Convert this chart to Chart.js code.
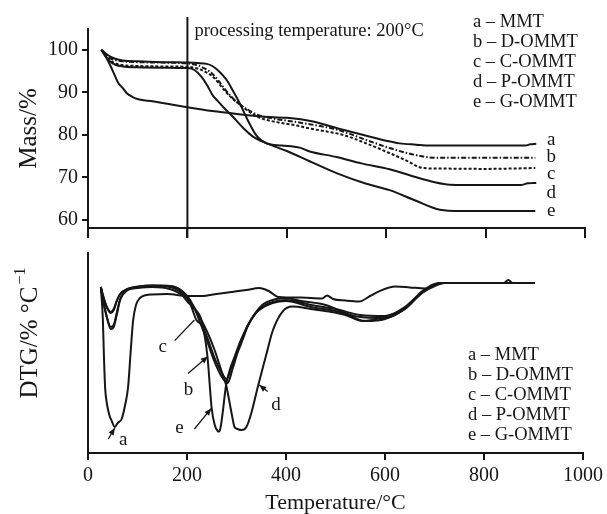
<!DOCTYPE html>
<html>
<head>
<meta charset="utf-8">
<title>TGA / DTG of MMT and OMMT</title>
<script src="https://cdn.jsdelivr.net/npm/chart.js@4.4.1/dist/chart.umd.min.js"></script>
<style>
  html, body { margin: 0; padding: 0; background: #fff; }
  #page { position: relative; width: 607px; height: 514px; }
  .panel { position: absolute; left: 0; width: 607px; }
  #tgaBox { top: 0; height: 245px; }
  #dtgBox { top: 245px; height: 269px; }
</style>
</head>
<body>
<div id="page">
  <div class="panel" id="tgaBox"><canvas id="tgaChart"></canvas></div>
  <div class="panel" id="dtgBox"><canvas id="dtgChart"></canvas></div>
</div>
<script>
// ---------------- DATA ----------------
const SERIES_KEYS = ["a", "b", "c", "d", "e"];
const SERIES_NAMES = ["MMT", "D-OMMT", "C-OMMT", "P-OMMT", "G-OMMT"];

const TEMP_TICKS = [0, 200, 400, 600, 800, 1000];
const MASS_TICKS = [60, 70, 80, 90, 100];
const PROCESS_T = 200;

// TGA, mass %
const TGA_T_A = [27, 40, 50, 61, 70, 78, 90, 101, 130, 160, 200, 250, 300, 350, 400, 450, 513, 560, 600, 627, 660, 687, 750, 850, 880, 890, 902];
const TGA_A   = [100, 97.5, 95, 92.2, 91, 89.8, 88.9, 88.4, 87.9, 87.3, 86.5, 85.6, 84.9, 84.3, 84.0, 83.2, 81.2, 79.8, 78.6, 78.0, 77.7, 77.5, 77.5, 77.5, 77.5, 77.8, 77.9];

const TGA_T_B = [27, 35, 45, 55, 70, 100, 150, 200, 220, 235, 249, 262, 275, 290, 302, 320, 346, 380, 420, 446, 480, 513, 560, 607, 650, 687, 700, 800, 900];
const TGA_B   = [100, 99, 98, 97.6, 97.3, 97.1, 97.0, 96.8, 96.4, 95.6, 94.5, 92.8, 90.8, 88.8, 87.5, 86, 84.5, 83.7, 83.0, 82.5, 81.8, 80.8, 78.8, 76.9, 75.5, 74.7, 74.6, 74.6, 74.6];

const TGA_T_C = [27, 35, 45, 55, 70, 100, 150, 200, 220, 235, 249, 262, 275, 290, 305, 320, 346, 380, 420, 446, 480, 513, 560, 607, 640, 674, 700, 800, 900];
const TGA_C   = [100, 98.7, 97.5, 96.8, 96.4, 96.2, 96.1, 96.0, 95.6, 94.9, 93.9, 92.3, 90.4, 88.6, 87.2, 85.8, 84.0, 83.0, 82.2, 81.5, 80.8, 80.0, 78.0, 75.7, 74.0, 72.2, 72.1, 72.0, 72.2];

const TGA_T_D = [27, 35, 45, 55, 70, 100, 150, 200, 220, 239, 250, 265, 279, 292, 305, 320, 339, 359, 390, 426, 446, 500, 550, 607, 650, 700, 728, 800, 870, 885, 902];
const TGA_D   = [100, 99.2, 98.4, 97.9, 97.5, 97.3, 97.1, 97.0, 96.9, 96.7, 96.2, 94.8, 92.9, 90.3, 87.5, 83.8, 79.8, 78.0, 77.5, 77.0, 76.1, 74.8, 73.3, 71.9, 70.4, 68.8, 68.3, 68.2, 68.2, 68.6, 68.7];

const TGA_T_E = [27, 35, 45, 55, 70, 100, 150, 200, 215, 228, 240, 251, 261, 275, 292, 316, 332, 360, 400, 446, 500, 560, 607, 660, 708, 750, 900];
const TGA_E   = [100, 98.5, 97.2, 96.5, 96.1, 95.9, 95.8, 95.7, 95.2, 93.7, 91.6, 89.3, 88.0, 86.2, 84.2, 81.2, 79.6, 78.0, 76.2, 73.8, 71.0, 68.5, 67.0, 64.5, 62.4, 62.1, 62.1];

// DTG, relative units (0 = baseline, no scale printed)
const DTG_T_A = [26, 30, 32, 34.5, 38, 43, 48, 54, 60, 68, 75, 81, 86, 91, 97, 105, 118, 130, 160, 200, 230, 260, 290, 320, 346, 365, 385, 430, 473, 483, 495, 520, 547, 570, 587, 621, 650, 681, 695, 708, 800, 840, 849, 858, 903];
const DTG_A   = [-0.2, -1.8, -3.5, -5.2, -6.0, -6.6, -6.9, -7.2, -7.0, -6.8, -6.1, -5.2, -3.5, -1.9, -1.1, -0.75, -0.6, -0.57, -0.55, -0.65, -0.65, -0.55, -0.45, -0.35, -0.25, -0.4, -0.7, -0.73, -0.77, -0.62, -0.8, -0.88, -0.93, -0.65, -0.43, -0.18, -0.22, -0.27, -0.1, 0, 0, 0, 0.15, 0, 0];

const DTG_T_B = [26, 30, 38, 46, 52, 58, 65, 80, 100, 130, 165, 190, 205, 219, 230, 242, 255, 268, 282, 292, 302, 313, 322, 339, 355, 373, 400, 450, 500, 550, 600, 640, 675, 705, 720, 800, 903];
const DTG_B   = [-0.2, -0.6, -1.2, -1.45, -1.3, -0.9, -0.55, -0.3, -0.2, -0.13, -0.15, -0.4, -0.8, -1.5, -2.2, -3.0, -3.9, -4.6, -5.0, -4.3, -3.5, -2.8, -2.2, -1.5, -1.15, -0.95, -0.85, -1.1, -1.3, -1.6, -1.65, -1.2, -0.45, -0.05, 0, 0, 0];

const DTG_T_C = [26, 30, 38, 46, 52, 58, 65, 80, 100, 130, 165, 190, 205, 219, 230, 242, 255, 268, 280, 290, 302, 313, 322, 339, 355, 373, 400, 450, 500, 550, 600, 640, 675, 705, 720, 800, 903];
const DTG_C   = [-0.2, -0.8, -1.7, -2.2, -2.1, -1.5, -0.8, -0.35, -0.22, -0.15, -0.2, -0.5, -0.95, -1.85, -2.1, -2.8, -3.7, -4.4, -4.8, -4.2, -3.4, -2.7, -2.15, -1.5, -1.2, -1.0, -0.9, -1.2, -1.4, -1.7, -1.75, -1.3, -0.5, -0.1, 0, 0, 0];

const DTG_T_D = [26, 30, 38, 46, 52, 58, 65, 80, 100, 130, 165, 190, 205, 219, 240, 255, 269, 279, 290, 296, 302, 310, 320, 330, 343, 360, 373, 393, 413, 450, 487, 520, 554, 601, 641, 674, 701, 715, 800, 903];
const DTG_D   = [-0.2, -0.6, -1.2, -1.5, -1.35, -0.9, -0.55, -0.3, -0.18, -0.12, -0.15, -0.4, -0.85, -1.4, -2.4, -3.3, -4.35, -5.1, -6.5, -7.2, -7.3, -7.35, -7.2, -6.5, -5.2, -3.6, -2.4, -1.43, -1.18, -1.3, -1.43, -1.6, -1.9, -1.68, -1.27, -0.43, -0.1, 0, 0, 0];

const DTG_T_E = [26, 30, 38, 46, 52, 58, 65, 80, 100, 130, 165, 190, 200, 215, 229, 241, 250, 256, 262, 265, 268, 272, 279, 287, 296, 309, 329, 352, 380, 400, 430, 480, 520, 560, 600, 640, 674, 700, 715, 800, 903];
const DTG_E   = [-0.2, -0.8, -1.7, -2.3, -2.2, -1.6, -0.85, -0.35, -0.25, -0.2, -0.3, -0.6, -0.9, -1.3, -1.85, -3.6, -6.3, -7.1, -7.4, -7.43, -7.2, -6.5, -5.1, -4.3, -3.7, -2.85, -1.85, -1.1, -0.8, -0.75, -0.9, -1.1, -1.5, -1.9, -1.8, -1.3, -0.5, -0.1, 0, 0, 0];

// curve letters at the right end of the TGA panel
const END_LABEL_T = 932;
const END_LABEL_MASS = [78.8, 74.8, 70.8, 66.4, 62.0];

// pointer letters in the DTG panel (text spot, line start, line end)
const DTG_NOTES = [
    { key: "a", at: [71, -7.85], from: [41, -7.8], to: [54, -7.25], head: true },
    { key: "c", at: [151, -3.2], from: [175, -2.88], to: [215, -1.85], head: false },
    { key: "b", at: [203, -5.35], from: [202, -4.52], to: [242, -3.68], head: true },
    { key: "e", at: [185, -7.27], from: [215, -7.3], to: [249, -6.27], head: true },
    { key: "d", at: [380, -6.1], from: [363, -5.43], to: [346, -5.1], head: true }
];

// ---------------- STYLE ----------------
const INK = "#161616";
const SERIF = "'Liberation Serif', 'Times New Roman', serif";
const AXIS_LEFT = 88;
const TGA_DASH = [[], [5, 2, 1.5, 2], [3, 2], [], []];

function pts(xs, ys) {
    return xs.map((x, i) => ({ x: x, y: ys[i] }));
}

function curve(xs, ys, dash) {
    return {
        data: pts(xs, ys),
        borderColor: INK,
        borderWidth: 2,
        borderDash: dash || [],
        pointRadius: 0,
        fill: false,
        cubicInterpolationMode: "monotone"
    };
}

function fixTicks(values) {
    return scale => { scale.ticks = values.map(v => ({ value: v })); };
}

const baseOptions = {
    responsive: true,
    maintainAspectRatio: false,
    animation: false,
    events: [],
    plugins: { legend: { display: false }, tooltip: { enabled: false } }
};

// ---------------- TGA PANEL ----------------
const tgaDecor = {
    id: "tgaDecor",
    afterDatasetsDraw(chart) {
        const { ctx, chartArea, scales: { x, y } } = chart;
        ctx.save();
        const px = x.getPixelForValue(PROCESS_T);
        ctx.strokeStyle = INK;
        ctx.lineWidth = 2;
        ctx.beginPath();
        ctx.moveTo(px, chartArea.top - 12);
        ctx.lineTo(px, chartArea.bottom + 10);
        ctx.stroke();

        ctx.fillStyle = INK;
        ctx.font = `18.5px ${SERIF}`;
        ctx.textBaseline = "middle";
        ctx.textAlign = "left";
        ctx.fillText(`processing temperature: ${PROCESS_T}°C`, px + 7, chartArea.top + 2);

        SERIES_KEYS.forEach((k, i) => {
            ctx.fillText(`${k} – ${SERIES_NAMES[i]}`, 473, 22 + i * 20);
        });

        ctx.textAlign = "center";
        ctx.font = `19px ${SERIF}`;
        SERIES_KEYS.forEach((k, i) => {
            ctx.fillText(k, x.getPixelForValue(END_LABEL_T), y.getPixelForValue(END_LABEL_MASS[i]));
        });
        ctx.restore();
    }
};

new Chart(document.getElementById("tgaChart"), {
    type: "line",
    data: {
        datasets: [
            curve(TGA_T_A, TGA_A, TGA_DASH[0]),
            curve(TGA_T_B, TGA_B, TGA_DASH[1]),
            curve(TGA_T_C, TGA_C, TGA_DASH[2]),
            curve(TGA_T_D, TGA_D, TGA_DASH[3]),
            curve(TGA_T_E, TGA_E, TGA_DASH[4])
        ]
    },
    options: {
        ...baseOptions,
        layout: { padding: { top: 29, right: 22, bottom: 0, left: 0 } },
        scales: {
            x: {
                type: "linear",
                min: 0,
                max: 1000,
                afterBuildTicks: fixTicks(TEMP_TICKS),
                afterFit: s => { s.height = 17; },
                ticks: { display: false },
                grid: { drawOnChartArea: false, drawTicks: true, tickLength: 10, color: INK, lineWidth: 2 },
                border: { display: true, color: INK, width: 2 }
            },
            y: {
                min: 58.1,
                max: 104.9,
                afterBuildTicks: fixTicks(MASS_TICKS),
                afterFit: s => { s.width = AXIS_LEFT; },
                ticks: { color: INK, padding: 4, font: { family: SERIF, size: 20 } },
                grid: { drawOnChartArea: false, drawTicks: true, tickLength: 6, color: INK, lineWidth: 2 },
                border: { display: true, color: INK, width: 2 },
                title: {
                    display: true,
                    text: "Mass/%",
                    color: INK,
                    font: { family: SERIF, size: 25, lineHeight: 1 },
                    padding: { top: 17, bottom: 0 }
                }
            }
        }
    },
    plugins: [tgaDecor]
});

// ---------------- DTG PANEL ----------------
function arrowHead(ctx, x0, y0, x1, y1) {
    const ang = Math.atan2(y1 - y0, x1 - x0);
    const len = 7, wid = 3;
    ctx.beginPath();
    ctx.moveTo(x1, y1);
    ctx.lineTo(x1 - len * Math.cos(ang) + wid * Math.sin(ang), y1 - len * Math.sin(ang) - wid * Math.cos(ang));
    ctx.lineTo(x1 - len * Math.cos(ang) - wid * Math.sin(ang), y1 - len * Math.sin(ang) + wid * Math.cos(ang));
    ctx.closePath();
    ctx.fill();
}

const dtgDecor = {
    id: "dtgDecor",
    afterDatasetsDraw(chart) {
        const { ctx, chartArea, scales: { x, y } } = chart;
        ctx.save();
        ctx.fillStyle = INK;
        ctx.strokeStyle = INK;
        ctx.lineWidth = 1.3;
        ctx.textBaseline = "middle";

        // pointer letters
        ctx.font = `19px ${SERIF}`;
        ctx.textAlign = "center";
        DTG_NOTES.forEach(n => {
            const x0 = x.getPixelForValue(n.from[0]), y0 = y.getPixelForValue(n.from[1]);
            const x1 = x.getPixelForValue(n.to[0]), y1 = y.getPixelForValue(n.to[1]);
            ctx.beginPath();
            ctx.moveTo(x0, y0);
            ctx.lineTo(x1, y1);
            ctx.stroke();
            if (n.head) arrowHead(ctx, x0, y0, x1, y1);
            ctx.fillText(n.key, x.getPixelForValue(n.at[0]), y.getPixelForValue(n.at[1]));
        });

        // legend
        ctx.font = `18.5px ${SERIF}`;
        ctx.textAlign = "left";
        SERIES_KEYS.forEach((k, i) => {
            ctx.fillText(`${k} – ${SERIES_NAMES[i]}`, 468, 110 + i * 20);
        });

        // y title with superscript
        const main = "DTG/% °C", sup = "−1";
        ctx.font = `25px ${SERIF}`;
        const w1 = ctx.measureText(main).width;
        ctx.font = `16px ${SERIF}`;
        const w2 = ctx.measureText(sup).width;
        const cy = (chartArea.top + chartArea.bottom) / 2 - 20;
        ctx.translate(30, cy);
        ctx.rotate(-Math.PI / 2);
        const start = -(w1 + w2 + 2) / 2;
        ctx.font = `25px ${SERIF}`;
        ctx.fillText(main, start, 0);
        ctx.font = `16px ${SERIF}`;
        ctx.fillText(sup, start + w1 + 2, -9);
        ctx.restore();
    }
};

new Chart(document.getElementById("dtgChart"), {
    type: "line",
    data: {
        datasets: [
            curve(DTG_T_A, DTG_A),
            curve(DTG_T_B, DTG_B),
            curve(DTG_T_C, DTG_C),
            curve(DTG_T_D, DTG_D),
            curve(DTG_T_E, DTG_E)
        ]
    },
    options: {
        ...baseOptions,
        layout: { padding: { top: 8, right: 22, bottom: 0, left: 0 } },
        scales: {
            x: {
                type: "linear",
                min: 0,
                max: 1000,
                afterBuildTicks: fixTicks(TEMP_TICKS),
                afterFit: s => { s.height = 61; },
                ticks: {
                    color: INK,
                    padding: 4,
                    maxRotation: 0,
                    font: { family: SERIF, size: 20 },
                    callback: v => String(v)
                },
                grid: { drawOnChartArea: false, drawTicks: true, tickLength: 7, color: INK, lineWidth: 2 },
                border: { display: true, color: INK, width: 2 },
                title: {
                    display: true,
                    text: "Temperature/°C",
                    color: INK,
                    font: { family: SERIF, size: 22, lineHeight: 1 },
                    padding: { top: 0, bottom: 0 }
                }
            },
            y: {
                min: -8.5,
                max: 1.5,
                afterFit: s => { s.width = AXIS_LEFT; },
                ticks: { display: false },
                grid: { drawOnChartArea: false, drawTicks: false },
                border: { display: true, color: INK, width: 2 }
            }
        }
    },
    plugins: [dtgDecor]
});
</script>
</body>
</html>
